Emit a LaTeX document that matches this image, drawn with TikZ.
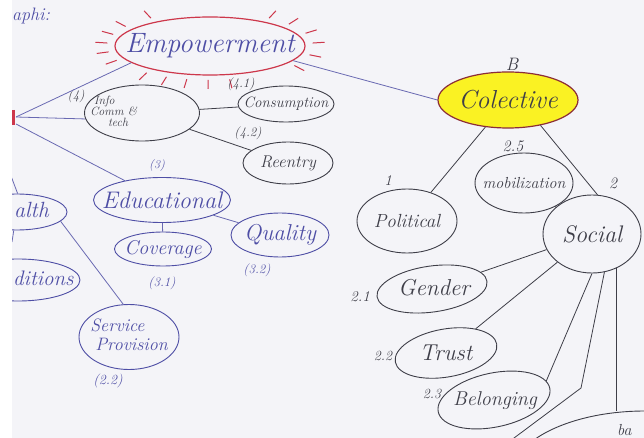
\documentclass[tikz,border=0pt]{standalone}
\usepackage{fontspec}
\usetikzlibrary{shapes.geometric,calc}
\definecolor{paper}{RGB}{244,244,248}
\definecolor{blueink}{RGB}{78,78,165}
\definecolor{grayink}{RGB}{62,62,72}
\definecolor{redink}{RGB}{205,55,75}
\definecolor{hilite}{RGB}{250,242,35}
\definecolor{colborder}{RGB}{140,45,55}
\newcommand\zw[1]{\makebox[0pt]{#1}}
\newcommand\hwfs[1]{\fontsize{#1}{#1}\selectfont}
\begin{document}
\begin{tikzpicture}[x=1pt,y=-1pt,
  bub/.style={ellipse,draw,inner sep=0pt,line width=0.9pt},
  bl/.style={draw=blueink,text=blueink},
  gr/.style={draw=grayink,text=grayink},
  hw/.style={font=\itshape\hwfs{#1}},
  lab/.style={inner sep=0pt,font=\itshape\hwfs{#1}},
  con/.style={line width=0.8pt},
  bcon/.style={con,draw=blueink!85},
  gcon/.style={con,draw=grayink},
  ray/.style={draw=redink,line width=1pt}]
\useasboundingbox (0,0) rectangle (644,438);
\fill[white] (0,0) rectangle (644,438);
\fill[paper] (12,0) rectangle (644,438);
\begin{scope}
\clip (12,0) rectangle (644,438);
% ---------- nodes ----------
\node[lab=18,text=blueink,anchor=west] (title) at (12,16) {aphi:};
\node[bub,draw=redink,text=blueink,line width=1.2pt,minimum width=190pt,minimum height=58pt,hw=28] (emp) at (210,46) {\zw{Empowerment}};
\foreach \a in {125,145,160,175,190,205,232,245,257,269,281,325,345,5,22,40,55}
  \draw[ray] ($(emp.center)+(\a:103pt and 34pt)$) -- ($(emp.center)+(\a:115pt and 43pt)$);
\node[bub,gr,minimum width=115pt,minimum height=56pt] (info) at (142,113)
  {\makebox[0pt][l]{\hspace*{-52pt}\raisebox{-3pt}{\itshape\hwfs{12}\begin{tabular}{@{}l@{}}\hspace*{4pt}Info\\[-1pt]Comm \&\\[-1pt]\hspace*{18pt}tech\end{tabular}}}};
\node[bub,gr,minimum width=96pt,minimum height=36pt,hw=15] (cons) at (286,104) {\zw{Consumption}};
\node[bub,gr,minimum width=90pt,minimum height=42pt,hw=17] (reent) at (288,163) {\zw{Reentry}};
\node[bub,bl,minimum width=137pt,minimum height=45pt,hw=24] (edu) at (162,200) {\zw{Educational}};
\node[bub,bl,minimum width=97pt,minimum height=34pt,hw=20] (cov) at (163,249) {\zw{Coverage}};
\node[bub,bl,minimum width=98pt,minimum height=44pt,hw=23] (qual) at (280,235) {\zw{Quality}};
\node[bub,bl,minimum width=100pt,minimum height=36pt] (health) at (17,212) {};
\node[lab=22,text=blueink,anchor=west] (healthtxt) at (14,210) {alth};
\node[bub,bl,minimum width=124pt,minimum height=42pt] (cond) at (18,280) {};
\node[lab=21,text=blueink,anchor=west] (condtxt) at (13,278) {ditions};
\node[bub,bl,minimum width=100pt,minimum height=65pt,hw=18] (serv) at (129,337)
  {\zw{\begin{tabular}{@{}l@{}}Service\\[1pt]\hspace*{5pt}Provision\end{tabular}}};
\node[bub,draw=colborder,fill=hilite,text=grayink,line width=1.2pt,minimum width=140pt,minimum height=56pt,hw=26] (col) at (508,100) {\zw{Colective}};
\node[bub,gr,minimum width=100pt,minimum height=64pt,hw=19] (pol) at (407,221) {\zw{Political}};
\node[bub,gr,minimum width=98pt,minimum height=60pt,hw=16] (mob) at (524,183) {\zw{mobilization}};
\node[bub,gr,minimum width=98pt,minimum height=78pt,hw=24] (soc) at (592,234) {\zw{Social}};
\node[bub,gr,rotate=8,minimum width=111pt,minimum height=46pt] (gen) at (432,289) {};
\node[lab=23,text=grayink] (gentxt) at (434,288) {Gender};
\node[bub,gr,rotate=10,minimum width=103pt,minimum height=48pt] (trust) at (446,353) {};
\node[lab=23,text=grayink] (trusttxt) at (446,353) {Trust};
\node[bub,gr,rotate=12,minimum width=114pt,minimum height=54pt] (bel) at (494,400) {};
\node[lab=20,text=grayink] (beltxt) at (495,401) {Belonging};
\node[bub,gr,minimum width=270pt,minimum height=134pt] (bot) at (645,478) {};
\node[lab=16,text=grayink,anchor=north west] (bottxt) at (617,424) {ba};
% ---------- labels ----------
\node[lab=13,text=grayink] (l4) at (76,96) {(4)};
\node[lab=13,text=grayink] (l41) at (241,84) {(4.1)};
\node[lab=13,text=grayink] (l42) at (248,133) {(4.2)};
\node[lab=12,text=blueink] (l3) at (157,166) {(3)};
\node[lab=13,text=blueink] (l31) at (162,283) {(3.1)};
\node[lab=13,text=blueink] (l32) at (257,270) {(3.2)};
\node[lab=14,text=blueink] (l22) at (108,381) {(2.2)};
\node[lab=18,text=grayink] (lB) at (512,64) {B};
\node[lab=15,text=grayink] (l1) at (388,181) {1};
\node[lab=16,text=grayink] (l25) at (513,146) {2.5};
\node[lab=16,text=grayink] (l2) at (613,183) {2};
\node[lab=15,text=grayink] (l21) at (360,297) {2.1};
\node[lab=14,text=grayink] (l2b) at (383,356) {2.2};
\node[lab=14,text=grayink] (l23) at (432,394) {2.3};
% ---------- coordinates ----------
\coordinate (hub) at (16,117);
\coordinate (hub2) at (16,124);
\coordinate (stubA) at (11,176);
\coordinate (stubB) at (12,242);
\coordinate (bendA) at (581,388);
\coordinate (bendB) at (506,444);
\draw[redink,line width=2.5pt] (13.5,110) -- (13.5,125);
% ---------- connectors ----------
\draw[bcon] (emp.-10) -- (col.west);
\draw[bcon] (emp.192) -- (hub);
\draw[bcon] (hub) -- (info.186);
\draw[bcon] (hub2) -- (edu);
\draw[gcon] (info) -- (cons);
\draw[gcon] (info) -- (reent);
\draw[bcon] (edu) -- (cov);
\draw[bcon] (edu) -- (qual);
\draw[bcon] (health.-12) -- (serv.100);
\draw[bcon] (stubA) -- (health.88);
\draw[bcon] (health.-100) -- (stubB);
\draw[gcon] (col) -- (pol);
\draw[gcon] (col.-38) -- (soc.82);
\draw[gcon] (mob) -- (soc);
\draw[gcon] (soc) -- (gen);
\draw[gcon] (soc) -- (trust);
\draw[gcon] (soc.-90) -- (bel.8);
\draw[gcon] (soc.-72) -- (bendA) -- (bendB);
\draw[gcon] (soc.-55) -- (soc.-55 |- bot.north);
\end{scope}
\end{tikzpicture}
\end{document}
